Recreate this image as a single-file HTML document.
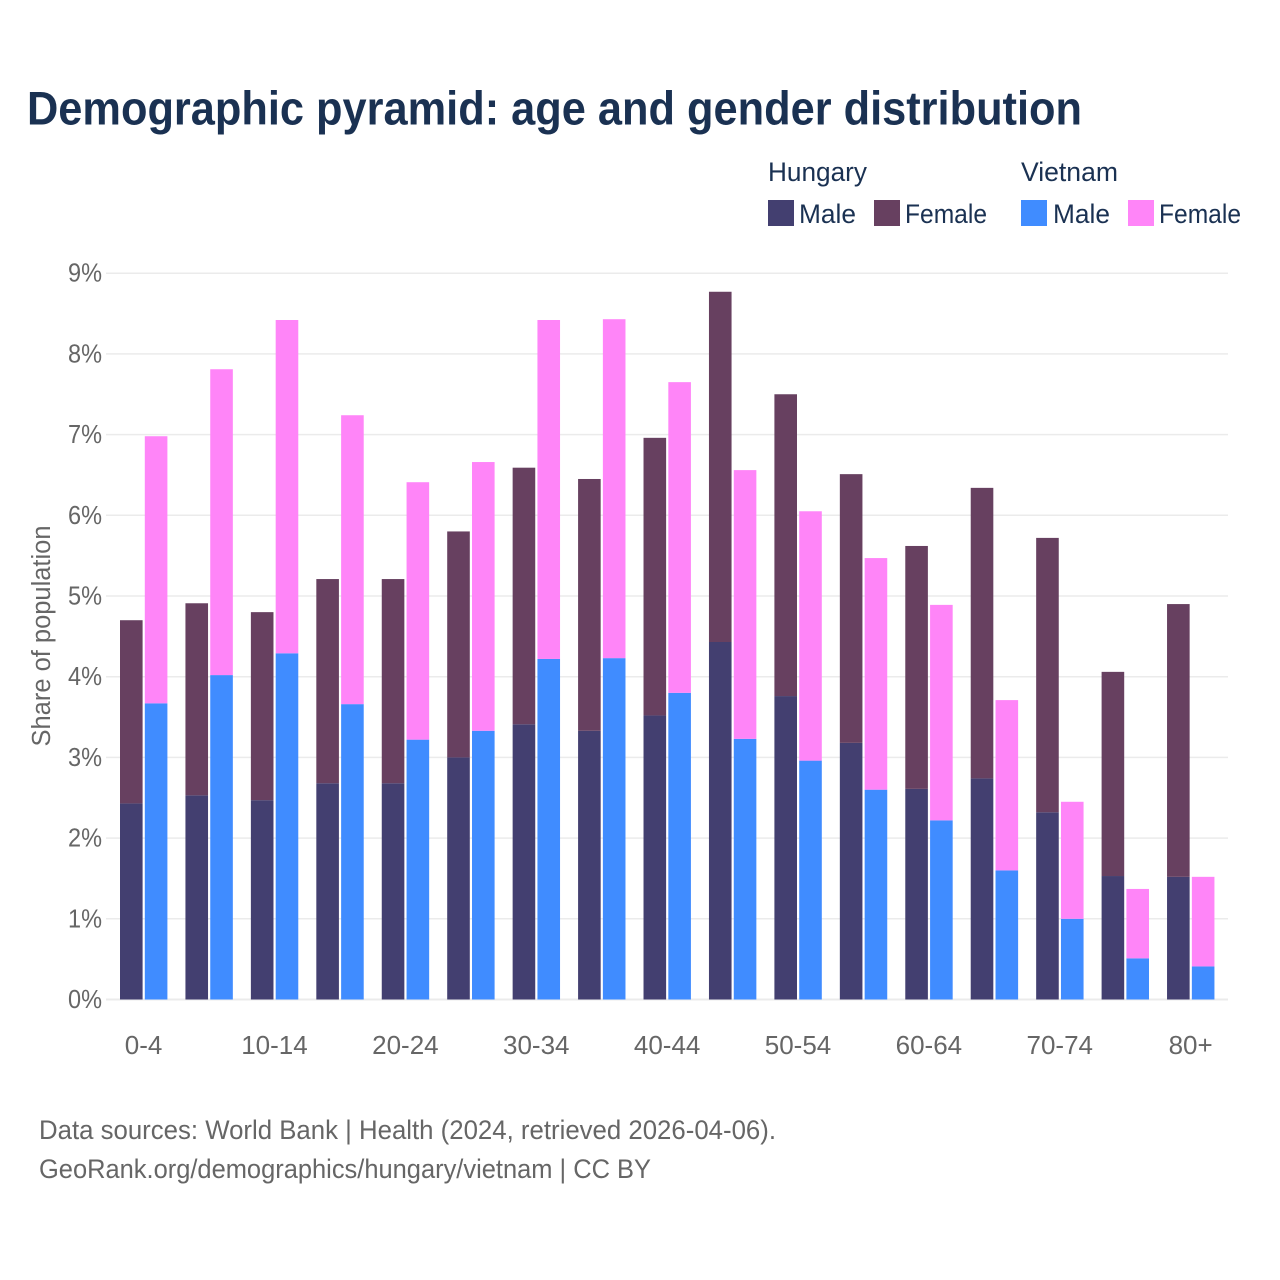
<!DOCTYPE html>
<html lang="en">
<head>
<meta charset="utf-8">
<title>Demographic pyramid: age and gender distribution</title>
<style>
html,body{margin:0;padding:0;background:#fff;}
svg{display:block;font-family:"Liberation Sans",sans-serif;}
</style>
</head>
<body>
<svg id="chart" width="1280" height="1280" viewBox="0 0 1280 1280" xmlns="http://www.w3.org/2000/svg">
<rect x="0" y="0" width="1280" height="1280" fill="#ffffff"/>
<text x="27" y="124.5" font-size="47" font-weight="700" fill="#1a3152" textLength="1055" lengthAdjust="spacingAndGlyphs">Demographic pyramid: age and gender distribution</text>

<g font-size="27" fill="#1a3152">
<text x="768" y="181" textLength="99" lengthAdjust="spacingAndGlyphs">Hungary</text>
<text x="1021" y="181" textLength="97" lengthAdjust="spacingAndGlyphs">Vietnam</text>
<rect x="768" y="200" width="26" height="26" fill="#433f70"/>
<text x="799" y="223" textLength="57" lengthAdjust="spacingAndGlyphs">Male</text>
<rect x="874" y="200" width="26" height="26" fill="#674060"/>
<text x="905" y="223" textLength="82" lengthAdjust="spacingAndGlyphs">Female</text>
<rect x="1021" y="200" width="26" height="26" fill="#408cff"/>
<text x="1053" y="223" textLength="57" lengthAdjust="spacingAndGlyphs">Male</text>
<rect x="1128" y="200" width="26" height="26" fill="#ff85f8"/>
<text x="1159" y="223" textLength="82" lengthAdjust="spacingAndGlyphs">Female</text>
</g>

<g id="grid"></g>
<g id="yticks" font-size="26" fill="#666666" text-anchor="end"></g>
<g id="bars"></g>
<g id="xticks" font-size="26" fill="#666666" text-anchor="middle"></g>

<text transform="translate(50,636) rotate(-90)" font-size="25.5" fill="#666666" text-anchor="middle" textLength="221" lengthAdjust="spacingAndGlyphs">Share of population</text>

<text x="39" y="1139" font-size="26.5" fill="#666666" textLength="737" lengthAdjust="spacingAndGlyphs">Data sources: World Bank | Health (2024, retrieved 2026-04-06).</text>
<text x="39" y="1178" font-size="26.5" fill="#666666" textLength="612" lengthAdjust="spacingAndGlyphs">GeoRank.org/demographics/hungary/vietnam | CC BY</text>
</svg>
<script>
const ageGroups = ["0-4","5-9","10-14","15-19","20-24","25-29","30-34","35-39","40-44","45-49","50-54","55-59","60-64","65-69","70-74","75-79","80+"];
const xTickLabels = ["0-4","10-14","20-24","30-34","40-44","50-54","60-64","70-74","80+"];
const yTickValues = [0,1,2,3,4,5,6,7,8,9];
const hungaryMale = [2.43,2.53,2.47,2.68,2.68,3.00,3.41,3.33,3.52,4.43,3.76,3.18,2.61,2.74,2.32,1.53,1.52];
const hungaryFemale = [2.27,2.38,2.33,2.53,2.53,2.80,3.18,3.12,3.44,4.34,3.74,3.33,3.01,3.60,3.40,2.53,3.38];
const vietnamMale = [3.67,4.02,4.29,3.66,3.22,3.33,4.22,4.23,3.80,3.23,2.96,2.60,2.22,1.60,1.00,0.51,0.41];
const vietnamFemale = [3.31,3.79,4.13,3.58,3.19,3.33,4.20,4.20,3.85,3.33,3.09,2.87,2.67,2.11,1.45,0.86,1.11];

const NS = "http://www.w3.org/2000/svg";
const plotBottom = 999.5;
const unitHeight = 80.7;
const firstBarLeft = 120;
const groupStep = 65.44;
const barWidth = 22.6;
const barOffset = 24.8;
function yScale(v){ return plotBottom - v * unitHeight; }
function xScale(i){ return firstBarLeft + i * groupStep; }

const gridLayer = document.getElementById("grid");
const yTickLayer = document.getElementById("yticks");
const barLayer = document.getElementById("bars");
const xTickLayer = document.getElementById("xticks");

yTickValues.forEach(function(v){
  const line = document.createElementNS(NS, "line");
  
  
  line.setAttribute("x1", 106);
  line.setAttribute("x2", 1228);
  line.setAttribute("y1", yScale(v));
  line.setAttribute("y2", yScale(v));
  line.setAttribute("stroke", "#ebebeb");
  line.setAttribute("stroke-width", v === 0 ? 2 : 1.5);
  gridLayer.appendChild(line);
  const label = document.createElementNS(NS, "text");
  
  
  label.setAttribute("x", 102);
  label.setAttribute("y", yScale(v) + 8.5);
  label.setAttribute("textLength", 34);
  label.setAttribute("lengthAdjust", "spacingAndGlyphs");
  label.textContent = v + "%";
  yTickLayer.appendChild(label);
});

function addBar(x, bottomValue, value, fill, name){
  const top = yScale(bottomValue + value);
  const bottom = yScale(bottomValue);
  const bar = document.createElementNS(NS, "rect");
  
  
  bar.setAttribute("x", x);
  bar.setAttribute("y", top);
  bar.setAttribute("width", barWidth);
  bar.setAttribute("height", bottom - top);
  bar.setAttribute("fill", fill);
  barLayer.appendChild(bar);
}

ageGroups.forEach(function(group, i){
  const x = xScale(i);
  addBar(x, 0, hungaryMale[i], "#433f70", "bar-hungary-male-" + group);
  addBar(x, hungaryMale[i], hungaryFemale[i], "#674060", "bar-hungary-female-" + group);
  addBar(x + barOffset, 0, vietnamMale[i], "#408cff", "bar-vietnam-male-" + group);
  addBar(x + barOffset, vietnamMale[i], vietnamFemale[i], "#ff85f8", "bar-vietnam-female-" + group);
  if (xTickLabels.indexOf(group) !== -1) {
    const tick = document.createElementNS(NS, "text");
    
    
    tick.setAttribute("x", x + 23.6);
    tick.setAttribute("y", 1054);
    tick.textContent = group;
    xTickLayer.appendChild(tick);
  }
});
</script>
</body>
</html>
